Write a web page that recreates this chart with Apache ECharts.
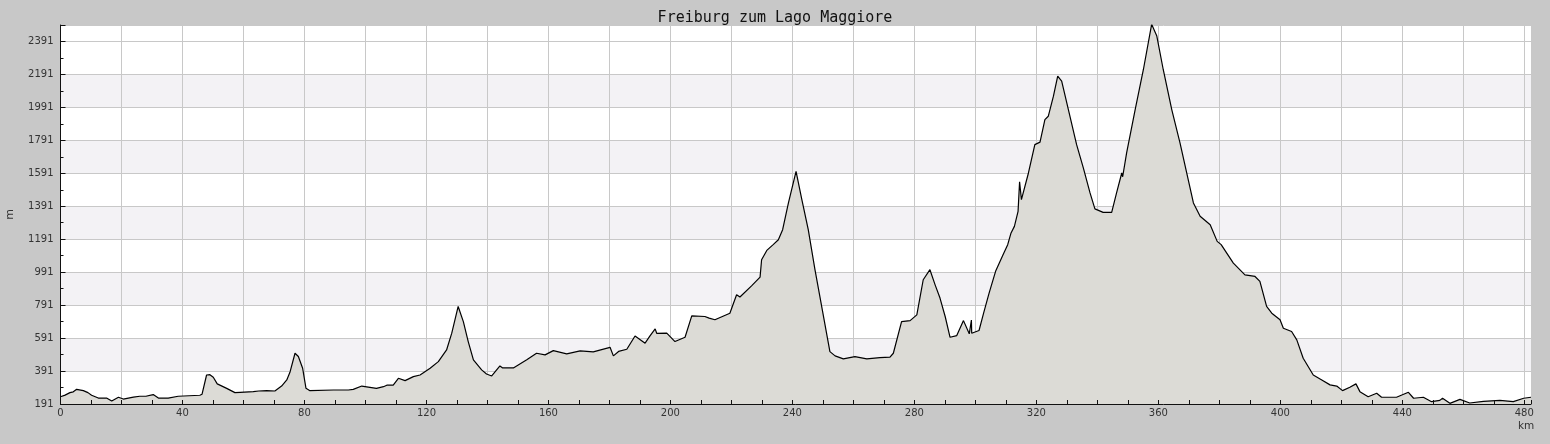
<!DOCTYPE html>
<html>
<head>
<meta charset="utf-8">
<script src="https://cdn.jsdelivr.net/npm/echarts@6/dist/echarts.min.js"></script>
<style>
html,body{margin:0;padding:0;background:#c8c8c8;}
#chart{width:1550px;height:444px;}
</style>
</head>
<body>
<div id="chart"></div>
<script>
// Distance along route (km)
const km = [0,1.5,3.1,4.2,5.3,7.5,9,10.2,12.4,15.1,16.8,19,20.6,23.9,26,28,30.4,32.1,35.3,38.6,45.7,46.4,47.9,49,50.1,51.4,54.5,57.2,58.9,63.2,65,67.6,70.3,72.5,74.2,75.3,76.9,78,79.4,80.5,81.8,89.5,94.4,96,98.8,103.6,105.9,107,109.1,110.8,113,115.7,117.9,121.2,123.9,126.6,128.3,130.4,132.1,133.7,135.4,138.1,139.7,141.4,144.1,145,148.5,152.9,156.1,158.9,161.6,166,170.4,174.7,180.2,181.3,183,185.7,188.4,191.7,193.3,195,195.5,198.8,201.5,204.8,207,211.3,212.7,214.6,219.5,221.7,222.8,226.6,229.4,229.9,231.6,233.7,235.4,236.8,238.7,241.2,243.1,245.2,247.4,249.6,252.3,254,256.7,260.5,264.4,268.7,272,273.1,275.8,278.6,280.8,282.9,285.1,286.8,288.4,290.1,291.7,293.9,296.1,298,298.6,298.7,298.8,301.2,302.7,304.5,306.7,309,310.6,311.7,312.8,314,314.4,314.5,315.1,317.4,319.5,321.2,322.8,323.9,325.6,327,328.3,331,333.2,335.4,337.6,339.2,341.9,344.7,346.3,348,348.3,349.6,352.4,355.1,357.8,359.5,361.6,364.4,367.1,369.3,371.5,373.7,377,379.3,380.6,384.6,388.4,391.7,393.3,395.5,397.2,399.9,401,403.7,405.4,407.5,410.8,413.6,416.3,418.5,420.4,422.8,424.8,426.1,428.8,431.6,433.2,438.1,442,443.7,446.9,449.6,452.3,453.2,455.6,458.9,462.1,466.6,472,476.4,479.8,482.2];
// Elevation (m)
const elevation = [235,245,260,265,280,272,260,244,227,227,209,232,221,233,238,238,248,227,227,238,244,250,367,369,353,313,286,260,262,266,270,272,270,300,337,387,499,479,408,286,272,276,276,280,300,286,296,305,305,347,333,357,367,408,448,519,621,783,691,570,459,398,373,361,422,410,410,459,499,489,515,495,513,507,535,483,510,523,604,560,604,647,620,621,570,596,726,722,712,702,742,854,840,908,961,1066,1123,1158,1188,1249,1411,1603,1431,1249,1006,783,509,483,465,479,465,472,475,499,691,697,732,945,1006,914,834,722,596,606,697,617,620,700,620,637,742,864,1000,1094,1158,1229,1269,1360,1370,1540,1431,1593,1765,1780,1917,1937,2059,2181,2150,1938,1765,1624,1472,1375,1354,1354,1472,1593,1570,1715,1978,2221,2495,2424,2221,1978,1776,1593,1411,1330,1279,1178,1158,1046,975,965,935,783,742,702,651,631,580,469,367,337,307,300,272,293,313,266,235,256,232,232,262,226,232,205,213,226,195,219,197,207,213,205,226,232];
// Tick labels
const yTickLabels = [191,391,591,791,991,1191,1391,1591,1791,1991,2191,2391];
const xTickLabels = [0,40,80,120,160,200,240,280,320,360,400,440,480];

const BASE = yTickLabels[0];          // axis origin (m)
const Y_TOP = 2491;                   // top of plot (m)
const X_MAX = km[km.length - 1];

const seriesData = km.map((k, i) => [k, elevation[i] - BASE]);

const chart = echarts.init(document.getElementById('chart'), null, {renderer: 'canvas'});
const gridColor = '#c8c8c8';
const bandColors = ['#ffffff','#f3f2f5','#ffffff','#f3f2f5','#ffffff','#f3f2f5','#ffffff','#f3f2f5','#ffffff','#f3f2f5','#ffffff','#ffffff'];
const labelFont = {fontFamily: 'DejaVu Sans', fontSize: 10, color: '#333333'};

chart.setOption({
  backgroundColor: '#c8c8c8',
  animation: false,
  title: [
    {text: 'Freiburg zum Lago Maggiore', left: 'center', top: 6,
     textStyle: {fontFamily: 'DejaVu Sans Mono', fontSize: 15, fontWeight: 'normal', color: '#111111'}},
    {text: 'km', left: 1513, top: 416,
     textStyle: {fontFamily: 'DejaVu Sans', fontSize: 10.5, fontWeight: 'normal', color: '#333333'}}
  ],
  grid: {left: 60.5, right: 19, top: 25, bottom: 40, containLabel: false, outerBoundsMode: 'none', backgroundColor: '#ffffff', show: true, borderWidth: 0},
  xAxis: [
    {type: 'value', min: 0, max: X_MAX, interval: 20, z: 0, position: 'bottom',
     axisLine: {show: false}, axisTick: {show: false}, axisLabel: {show: false},
     splitLine: {show: true, lineStyle: {color: gridColor, width: 1}}},
    {type: 'value', min: 0, max: X_MAX, interval: 10, z: 5, position: 'bottom', offset: 0,
     axisLine: {show: true, lineStyle: {color: '#111111', width: 1}},
     axisTick: {show: true, inside: true, length: 4, lineStyle: {color: '#111111'}},
     axisLabel: Object.assign({show: true, margin: 4, showMaxLabel: true,
       formatter: v => xTickLabels.indexOf(Math.round(v * 1000) / 1000) >= 0 && Math.abs(v - Math.round(v)) < 1e-6 ? String(v) : ''}, labelFont),
     splitLine: {show: false}}
  ],
  yAxis: [
    {type: 'value', min: 0, max: Y_TOP - BASE, interval: 200, z: 0, position: 'left',
     axisLine: {show: false}, axisTick: {show: false}, axisLabel: {show: false},
     splitLine: {show: true, lineStyle: {color: gridColor, width: 1}},
     splitArea: {show: true, areaStyle: {color: bandColors}}},
    {type: 'value', min: 0, max: Y_TOP - BASE, interval: 200, z: 5, position: 'left', offset: 0,
     name: 'm', nameLocation: 'middle', nameGap: 45, nameRotate: 90,
     nameTextStyle: {fontFamily: 'DejaVu Sans', fontSize: 11, color: '#333333'},
     axisLine: {show: true, lineStyle: {color: '#111111', width: 1}},
     axisTick: {show: true, inside: true, length: 5, lineStyle: {color: '#111111'}},
     axisLabel: Object.assign({show: true, margin: 7,
       formatter: v => yTickLabels.indexOf(v + BASE) >= 0 ? String(v + BASE) : ''}, labelFont),
     splitLine: {show: false}},
    {type: 'value', min: 0, max: Y_TOP - BASE, interval: 100, z: 5, position: 'left', offset: 0,
     axisLine: {show: false},
     axisTick: {show: true, inside: true, length: 3, lineStyle: {color: '#111111'}},
     axisLabel: {show: false}, splitLine: {show: false}}
  ],
  series: [{
    type: 'line', xAxisIndex: 0, yAxisIndex: 0, z: 2,
    data: seriesData, symbol: 'none', smooth: false, clip: true,
    lineStyle: {color: '#000000', width: 1.2},
    areaStyle: {color: '#dcdbd6', opacity: 1}
  }]
});
</script>
</body>
</html>
